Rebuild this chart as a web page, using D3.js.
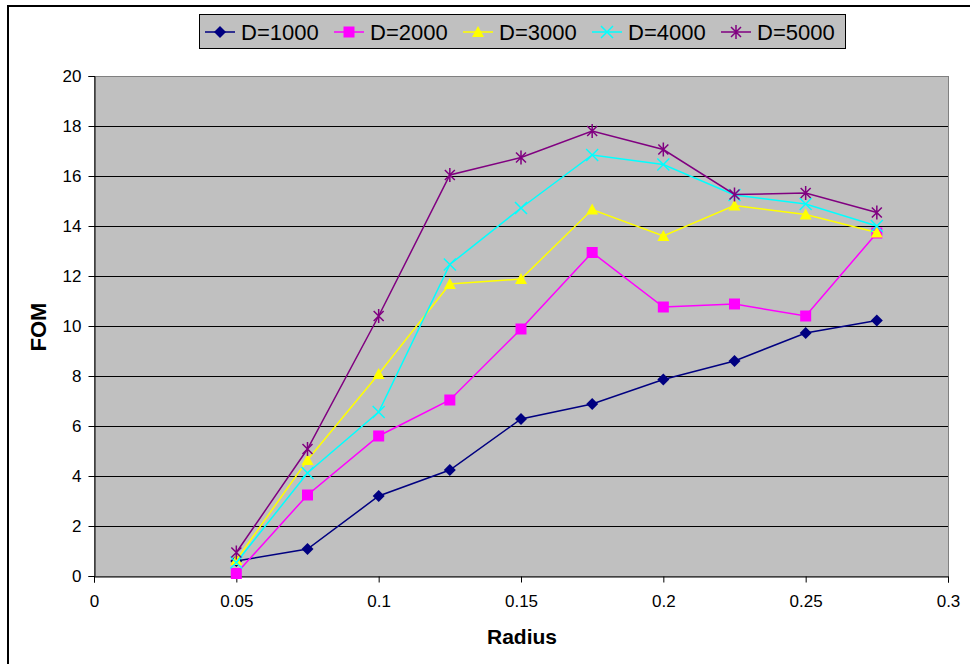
<!DOCTYPE html>
<html>
<head>
<meta charset="utf-8">
<script src="https://cdn.jsdelivr.net/npm/d3@7"></script>
<style>
  body { margin: 0; background: #fff; }
  svg { display: block; font-family: "Liberation Sans", Arial, sans-serif; }
</style>
</head>
<body>
<svg width="970" height="664"></svg>
<script>
// data
var radius = [0.05, 0.075, 0.1, 0.125, 0.15, 0.175, 0.2, 0.225, 0.25, 0.275];
var d1000 = [0.6, 1.08, 3.2, 4.24, 6.28, 6.88, 7.86, 8.6, 9.72, 10.22];
var d2000 = [0.1, 3.24, 5.6, 7.04, 9.88, 12.94, 10.76, 10.88, 10.4, 13.72];
var d3000 = [0.64, 4.64, 8.08, 11.68, 11.88, 14.66, 13.6, 14.82, 14.46, 13.74];
var d4000 = [0.54, 4.12, 6.56, 12.46, 14.72, 16.84, 16.46, 15.24, 14.88, 14.0];
var d5000 = [0.94, 5.08, 10.4, 16.04, 16.74, 17.8, 17.06, 15.26, 15.32, 14.54];
var seriesNames = ["D=1000", "D=2000", "D=3000", "D=4000", "D=5000"];
var xTicks = [0, 0.05, 0.1, 0.15, 0.2, 0.25, 0.3];
var yTicks = [0, 2, 4, 6, 8, 10, 12, 14, 16, 18, 20];

var series = [
  {name: seriesNames[0], values: d1000, color: "#000080", marker: "diamond"},
  {name: seriesNames[1], values: d2000, color: "#ff00ff", marker: "square"},
  {name: seriesNames[2], values: d3000, color: "#ffff00", marker: "triangle"},
  {name: seriesNames[3], values: d4000, color: "#00ffff", marker: "x"},
  {name: seriesNames[4], values: d5000, color: "#800080", marker: "star"}
];

var svg = d3.select("svg");

// outer chart border
svg.append("rect")
  .attr("x", 8).attr("y", 6)
  .attr("width", 975).attr("height", 670)
  .attr("fill", "#fff").attr("stroke", "#000").attr("stroke-width", 2);

var pLeft = 94, pRight = 948, pTop = 76, pBottom = 576;

var x = d3.scaleLinear().domain([0, 0.3]).range([pLeft, pRight]);
var y = d3.scaleLinear().domain([0, 20]).range([pBottom, pTop]);

// plot area
svg.append("rect")
  .attr("x", pLeft + 0.5).attr("y", pTop + 0.5)
  .attr("width", pRight - pLeft).attr("height", pBottom - pTop)
  .attr("fill", "#c0c0c0").attr("stroke", "#808080").attr("stroke-width", 1);

// gridlines
svg.append("g").selectAll("line")
  .data(yTicks.filter(function(d) { return d > 0 && d < 20; }))
  .enter().append("line")
  .attr("x1", pLeft).attr("x2", pRight)
  .attr("y1", function(d) { return y(d) + 0.5; })
  .attr("y2", function(d) { return y(d) + 0.5; })
  .attr("stroke", "#000").attr("stroke-width", 1);

// axes
var yAxis = d3.axisLeft(y).tickValues(yTicks).tickSize(6).tickPadding(7)
  .tickFormat(d3.format("d"));
var xAxis = d3.axisBottom(x).tickValues(xTicks).tickSize(6).tickPadding(12)
  .tickFormat(function(d) { return d === 0 ? "0" : String(d); });

var gy = svg.append("g")
  .attr("transform", "translate(" + (pLeft + 0.5) + ",0)")
  .call(yAxis);
var gx = svg.append("g")
  .attr("transform", "translate(0," + (pBottom + 0.5) + ")")
  .call(xAxis);

[gx, gy].forEach(function(g) {
  g.select(".domain").attr("stroke", "#000");
  g.selectAll(".tick line").attr("stroke", "#000");
  g.selectAll("text")
    .attr("font-family", "Liberation Sans, Arial, sans-serif")
    .attr("font-size", 17).attr("fill", "#000");
});

// axis titles
svg.append("text")
  .attr("x", 522).attr("y", 644)
  .attr("text-anchor", "middle")
  .attr("font-size", 21).attr("font-weight", "bold")
  .text("Radius");

svg.append("text")
  .attr("transform", "translate(46,327) rotate(-90)")
  .attr("text-anchor", "middle")
  .attr("font-size", 22).attr("font-weight", "bold")
  .text("FOM");

// markers
function drawMarker(g, type, color, cx, cy) {
  if (type === "diamond") {
    g.append("path")
      .attr("d", "M" + cx + "," + (cy - 6) + "L" + (cx + 6) + "," + cy +
        "L" + cx + "," + (cy + 6) + "L" + (cx - 6) + "," + cy + "Z")
      .attr("fill", color);
  } else if (type === "square") {
    g.append("rect")
      .attr("x", cx - 5.5).attr("y", cy - 5.5)
      .attr("width", 11).attr("height", 11)
      .attr("fill", color);
  } else if (type === "triangle") {
    g.append("path")
      .attr("d", "M" + cx + "," + (cy - 6) + "L" + (cx + 6) + "," + (cy + 5) +
        "L" + (cx - 6) + "," + (cy + 5) + "Z")
      .attr("fill", color);
  } else if (type === "x") {
    g.append("path")
      .attr("d", "M" + (cx - 6) + "," + (cy - 6) + "L" + (cx + 6) + "," + (cy + 6) +
        "M" + (cx + 6) + "," + (cy - 6) + "L" + (cx - 6) + "," + (cy + 6))
      .attr("stroke", color).attr("stroke-width", 1.5).attr("fill", "none");
  } else if (type === "star") {
    g.append("path")
      .attr("d", "M" + (cx - 5) + "," + (cy - 5) + "L" + (cx + 5) + "," + (cy + 5) +
        "M" + (cx + 5) + "," + (cy - 5) + "L" + (cx - 5) + "," + (cy + 5) +
        "M" + cx + "," + (cy - 7) + "L" + cx + "," + (cy + 7))
      .attr("stroke", color).attr("stroke-width", 1.5).attr("fill", "none");
  }
}

var line = d3.line()
  .x(function(d, i) { return x(radius[i]); })
  .y(function(d) { return y(d); });

series.forEach(function(s) {
  var g = svg.append("g");
  g.append("path")
    .datum(s.values)
    .attr("d", line)
    .attr("fill", "none")
    .attr("stroke", s.color)
    .attr("stroke-width", 1.5);
  s.values.forEach(function(v, i) {
    drawMarker(g, s.marker, s.color, x(radius[i]), y(v));
  });
});

// legend
var legend = svg.append("g");
legend.append("rect")
  .attr("x", 199.5).attr("y", 14.5)
  .attr("width", 646).attr("height", 34)
  .attr("fill", "#c0c0c0").attr("stroke", "#000").attr("stroke-width", 1);

var itemX = [205, 334, 463, 592, 721];
series.forEach(function(s, i) {
  var lx = itemX[i], ly = 32;
  legend.append("line")
    .attr("x1", lx).attr("x2", lx + 30)
    .attr("y1", ly).attr("y2", ly)
    .attr("stroke", s.color).attr("stroke-width", 1.5);
  drawMarker(legend, s.marker, s.color, lx + 15, ly);
  legend.append("text")
    .attr("x", lx + 36).attr("y", ly + 8)
    .attr("font-size", 22)
    .text(s.name);
});
</script>
</body>
</html>
